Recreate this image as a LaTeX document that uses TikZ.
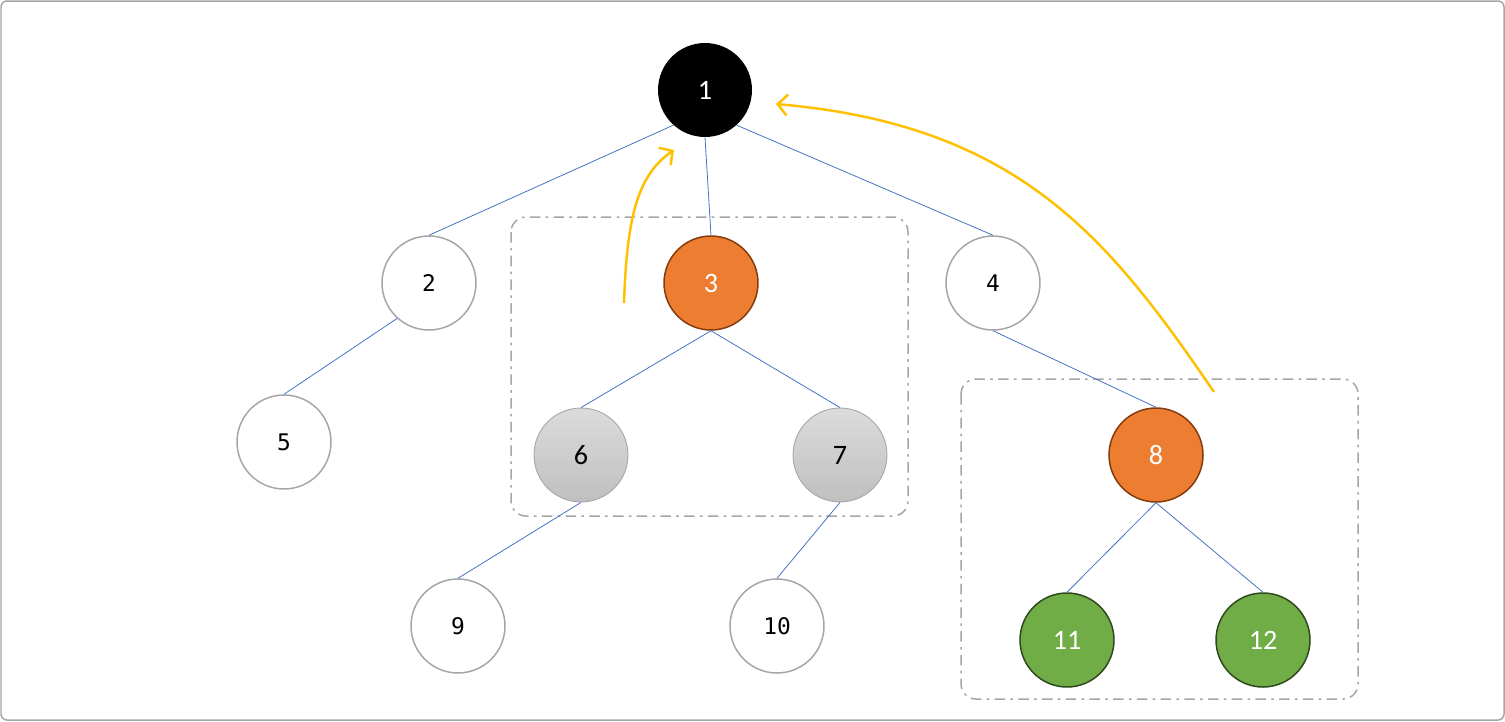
\documentclass[tikz,border=0pt]{standalone}
\usepackage{fontspec}
\newfontfamily\monofont{DejaVu Sans Mono}
\newfontfamily\labelfont{Carlito}
\usetikzlibrary{arrows.meta}
\definecolor{edgeblue}{HTML}{4472C4}
\definecolor{ringgray}{HTML}{A6A6A6}
\definecolor{hlorange}{HTML}{ED7D31}
\definecolor{hlbrown}{HTML}{843C0C}
\definecolor{leafgreen}{HTML}{70AD47}
\definecolor{darkgreen}{HTML}{2E4A1C}
\definecolor{arrowgold}{HTML}{FFC000}
\begin{document}
\begin{tikzpicture}[x=0.02cm,y=-0.02cm,
  vertex/.style={circle,minimum size=1.88cm,inner sep=0pt},
  plain/.style={vertex,draw=ringgray,line width=0.85pt,fill=white,font=\monofont\fontsize{13}{15}\selectfont},
  greyed/.style={vertex,draw=ringgray,line width=0.5pt,top color=black!14,bottom color=black!25,font=\labelfont\fontsize{16}{18}\selectfont},
  rootnode/.style={vertex,fill=black,text=white,font=\labelfont\fontsize{16}{18}\selectfont},
  picked/.style={vertex,draw=hlbrown,line width=0.85pt,fill=hlorange,text=white,font=\labelfont\fontsize{16}{18}\selectfont},
  leaf/.style={vertex,draw=darkgreen,line width=0.85pt,fill=leafgreen,text=white,font=\labelfont\fontsize{16}{18}\selectfont},
  link/.style={draw=edgeblue,line width=0.45pt},
  group/.style={draw=ringgray,line width=0.85pt,rounded corners=0.3cm,
    dash pattern=on 6pt off 3pt on 1.5pt off 3pt},
  hop/.style={draw=arrowgold,line width=1.4pt,-{Straight Barb[length=5.5pt,width=12pt]}}]
\useasboundingbox (0,0) rectangle (1505,721);
\draw[ringgray,line width=0.85pt,rounded corners=0.12cm] (1,1) rectangle (1504,720);

% subtree groups
\draw[group] (511,217) rectangle (908,516);
\draw[group] (961,379) rectangle (1358,699);

% nodes
\node[rootnode] (n1) at (705,90) {1};
\node[plain] (n2) at (429,283) {2};
\node[picked] (n3) at (711,283) {3};
\node[plain] (n4) at (993,283) {4};
\node[plain] (n5) at (284,442) {5};
\node[greyed] (n6) at (581,455) {6};
\node[greyed] (n7) at (840,455) {7};
\node[picked] (n8) at (1156,455) {8};
\node[plain] (n9) at (458,626) {9};
\node[plain] (n10) at (777,626) {10};
\node[leaf] (n11) at (1067,640) {11};
\node[leaf] (n12) at (1263,640) {12};

% edges
\draw[link] (n1.-132) -- (n2.north);
\draw[link] (n1.south) -- (n3.north);
\draw[link] (n1.-48) -- (n4.north);
\draw[link] (n2.-132) -- (n5.north);
\draw[link] (n3.south) -- (n6.north);
\draw[link] (n3.south) -- (n7.north);
\draw[link] (n4.south) -- (n8.north);
\draw[link] (n6.south) -- (n9.north);
\draw[link] (n7.south) -- (n10.north);
\draw[link] (n8.south) -- (n11.north);
\draw[link] (n8.south) -- (n12.north);

% moves up
\coordinate (fromA) at (624,303);
\coordinate (toA) at (674,150);
\coordinate (fromB) at (1214,392);
\coordinate (toB) at (776,104);
\draw[hop] (fromA) .. controls (627,215) and (638,175) .. (toA);
\draw[hop] (fromB) .. controls (1110,240) and (1020,125) .. (toB);
\end{tikzpicture}
\end{document}
